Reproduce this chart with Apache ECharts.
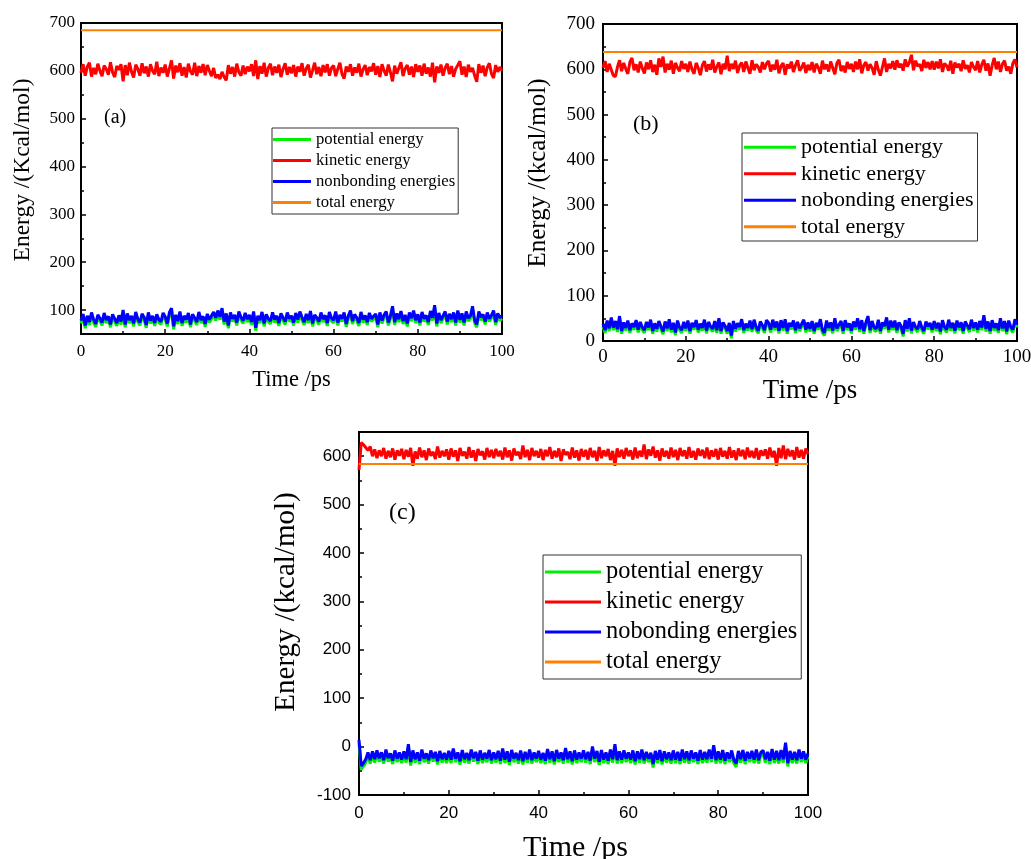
<!DOCTYPE html>
<html>
<head>
<meta charset="utf-8">
<script src="https://cdn.jsdelivr.net/npm/echarts@6/dist/echarts.min.js"></script>
<style>html,body{margin:0;padding:0;background:#fff}#chart{width:1031px;height:859px}</style>
</head>
<body>
<div id="chart"></div>
<script>
// ---------------- DATA (time step 0.5 ps, 0..100 ps) ----------------
const xTickLabels = [0, 20, 40, 60, 80, 100];
const yTicksA = [100, 200, 300, 400, 500, 600, 700];
const yTicksB = [0, 100, 200, 300, 400, 500, 600, 700];
const yTicksC = [-100, 0, 100, 200, 300, 400, 500, 600];
const seriesNamesA = ['potential energy', 'kinetic energy', 'nonbonding energies', 'total energy'];
const seriesNamesBC = ['potential energy', 'kinetic energy', 'nobonding energies', 'total energy'];

const totalA = 685;
const totalB = 638;
const totalC = 584;

const kineticA = [
596,614,590,609,617,588,606,593,615,600,589,611,604,592,618,597,587,610,602,614,
578,612,591,617,598,586,613,604,590,616,595,609,588,614,600,593,619,589,607,596,
613,588,605,622,584,611,597,616,590,608,586,615,599,592,617,589,610,596,614,591,
612,600,589,606,585,592,583,598,587,580,612,594,608,588,615,597,590,611,593,609,
599,614,589,622,583,610,594,617,588,606,615,591,609,596,613,587,604,616,592,608,
595,612,588,609,598,616,590,605,613,586,601,617,593,608,589,612,597,614,590,606,
611,589,604,617,593,584,609,598,614,590,607,596,615,588,603,612,591,608,599,616,
592,610,587,614,600,590,613,597,578,611,594,606,618,589,605,612,592,609,587,614,
598,611,590,615,594,607,588,617,576,609,596,613,590,606,615,593,610,588,604,612,
620,592,609,587,613,598,606,590,577,614,596,611,589,607,616,594,585,612,598,608,600];

const nonbondA = [
78,92,68,88,75,95,80,71,90,83,74,94,79,87,70,91,82,73,89,76,
100,70,93,79,88,72,96,81,74,92,85,69,95,78,88,73,91,80,76,94,
86,72,95,104,66,90,77,97,73,88,80,94,70,91,84,75,96,79,87,71,
92,80,88,96,84,99,86,104,76,93,68,95,82,90,74,97,85,78,94,81,
90,75,97,63,88,79,96,72,91,82,77,95,80,88,73,93,84,76,95,82,
88,74,94,80,97,85,75,92,79,98,72,90,84,76,95,81,89,73,96,83,
79,97,74,90,82,95,71,88,99,77,91,84,73,96,80,89,75,94,82,87,
92,70,95,78,90,97,74,88,108,75,93,81,98,77,90,72,95,83,99,79,
91,74,96,82,89,75,98,84,110,72,94,79,88,97,76,92,81,95,74,99,
80,93,74,97,83,88,108,79,70,97,85,91,76,95,82,89,99,75,93,84,88];

const potentialA = [
72,86,62,82,69,89,74,65,84,77,68,88,73,81,64,85,76,67,83,70,
94,64,87,73,82,66,90,75,68,86,79,63,89,72,82,67,85,74,70,88,
80,66,89,98,60,84,71,91,67,82,74,88,64,85,78,69,90,73,81,65,
86,74,82,90,78,93,80,98,70,87,62,89,76,84,68,91,79,72,88,75,
84,69,91,57,82,73,90,66,85,76,71,89,74,82,67,87,78,70,89,76,
82,68,88,74,91,79,69,86,73,92,66,84,78,70,89,75,83,67,90,77,
73,91,68,84,76,89,65,82,93,71,85,78,67,90,74,83,69,88,76,81,
86,64,89,72,84,91,68,82,102,69,87,75,92,71,84,66,89,77,93,73,
85,68,90,76,83,69,92,78,104,66,88,73,82,91,70,86,75,89,68,93,
74,87,68,91,77,82,102,73,64,91,79,85,70,89,76,83,93,69,87,78,82];

const kineticB = [
603,618,594,612,599,586,584,605,620,596,614,601,590,616,625,598,611,593,617,602,
591,615,600,620,594,610,588,624,605,628,593,612,599,619,590,614,603,596,618,601,
612,594,617,600,590,614,603,587,609,618,595,611,599,621,593,606,615,589,612,600,
630,596,612,601,619,592,608,615,594,617,603,590,620,598,611,605,593,616,600,613,
618,595,610,599,621,591,607,614,588,611,602,617,594,609,620,597,604,615,592,610,
598,616,593,612,604,590,619,600,611,595,617,603,589,614,621,596,608,593,616,601,
612,594,617,600,622,591,609,616,597,611,603,588,618,599,586,605,624,594,612,602,
618,599,620,604,612,597,622,606,615,632,598,619,607,611,596,621,603,616,600,618,
599,617,602,622,594,613,608,597,619,590,615,604,612,596,620,601,609,593,616,605,
598,618,593,611,621,597,613,586,609,625,600,617,594,612,619,597,606,590,613,622,604];

const nonbondB = [
38,24,45,28,52,30,44,26,55,22,41,29,45,24,39,31,46,25,42,30,
24,42,30,47,22,39,27,44,32,21,43,28,48,25,40,19,45,30,24,42,
28,45,22,40,31,46,25,38,29,47,23,42,32,27,44,24,50,22,41,33,
22,40,12,44,27,39,31,48,24,38,29,45,26,47,30,23,43,35,24,46,
40,25,47,30,43,23,46,29,48,22,40,32,45,24,42,28,38,47,25,41,
27,44,22,40,31,48,24,18,45,29,41,23,50,28,36,44,22,46,30,39,
23,43,31,50,26,46,22,41,55,24,44,30,27,47,22,41,33,52,25,45,
30,45,24,41,33,16,46,27,50,23,42,31,26,44,30,22,43,32,40,25,
44,28,40,21,46,31,25,47,29,40,23,45,30,41,22,43,34,26,47,29,
41,25,44,30,57,27,43,22,46,29,39,24,50,28,44,21,45,31,25,48,36];

const potentialB = [
32,18,39,22,46,24,38,20,49,16,35,23,39,18,33,25,40,19,36,24,
18,36,24,41,16,33,21,38,26,15,37,22,42,19,34,13,39,24,18,36,
22,39,16,34,25,40,19,32,23,41,17,36,26,21,38,18,44,16,35,27,
16,34,6,38,21,33,25,42,18,32,23,39,20,41,24,17,37,29,18,40,
34,19,41,24,37,17,40,23,42,16,34,26,39,18,36,22,32,41,19,35,
21,38,16,34,25,42,18,12,39,23,35,17,44,22,30,38,16,40,24,33,
17,37,25,44,20,40,16,35,49,18,38,24,21,41,16,35,27,46,19,39,
24,39,18,35,27,10,40,21,44,17,36,25,20,38,24,16,37,26,34,19,
38,22,34,15,40,25,19,41,23,34,17,39,24,35,16,37,28,20,41,23,
35,19,38,24,51,21,37,16,40,23,33,18,44,22,38,15,39,25,19,42,30];

const kineticC = [
572,628,624,618,612,620,600,614,596,612,600,617,595,611,598,616,593,612,601,615,
594,613,599,617,580,610,595,618,598,612,592,616,601,609,594,620,597,611,600,614,
593,616,599,612,590,617,601,609,595,619,597,612,590,615,602,610,593,617,598,613,
596,615,600,611,593,618,598,612,591,616,602,609,594,622,598,613,592,617,600,611,
597,615,592,613,600,619,595,611,598,616,590,614,603,609,594,618,597,612,591,615,
599,613,593,617,598,611,590,619,596,612,600,615,592,611,580,616,598,613,595,617,
600,612,593,618,596,611,599,624,594,614,601,620,597,612,591,616,599,611,595,618,
598,613,592,617,600,612,595,619,597,611,593,616,601,613,596,618,594,612,599,615,
593,617,599,611,595,619,597,612,592,616,600,613,594,618,598,611,596,617,593,612,
601,614,595,618,598,611,580,617,596,622,594,615,600,612,593,619,597,613,595,616,604];

const nonbondC = [
14,-40,-34,-26,-12,-28,-10,-26,-8,-24,-12,-28,-6,-24,-14,-29,-8,-25,-12,-27,
-10,-26,5,-32,-8,-26,-12,-29,-6,-25,-14,-28,-8,-24,-11,-30,-9,-26,-13,-27,
-9,-27,-4,-25,-12,-30,-7,-26,-13,-28,-6,-24,-11,-29,-8,-27,-13,-25,-7,-28,
-12,-26,-9,-29,-4,-27,-10,-31,-7,-25,-13,-28,-8,-30,-11,-26,-6,-28,-12,-25,
-9,-27,-13,-29,-5,-26,-10,-30,-7,-25,-12,-28,-3,-26,-10,-30,-8,-27,-12,-25,
-8,-26,-11,-29,0,-25,-9,-31,-7,-27,-12,-29,-6,-26,5,-28,-10,-27,-8,-25,
-12,-27,-8,-30,-10,-26,-6,-28,-11,-25,-13,-36,-9,-27,-7,-30,-10,-26,-12,-28,
-8,-27,-11,-29,-6,-26,-10,-28,-8,-25,-12,-29,-7,-27,-11,-26,-6,-25,3,-28,
-10,-27,-7,-29,-12,-25,-8,-28,-35,-9,-26,-7,-29,-11,-25,-9,-27,-6,-28,-12,
-8,-26,-11,-29,-5,-27,-9,-28,-7,-26,8,-34,-9,-27,-11,-28,-6,-25,-10,-27,-14];

const potentialC = [
7,-47,-41,-33,-19,-35,-17,-33,-15,-31,-19,-35,-13,-31,-21,-36,-15,-32,-19,-34,
-17,-33,-2,-39,-15,-33,-19,-36,-13,-32,-21,-35,-15,-31,-18,-37,-16,-33,-20,-34,
-16,-34,-11,-32,-19,-37,-14,-33,-20,-35,-13,-31,-18,-36,-15,-34,-20,-32,-14,-35,
-19,-33,-16,-36,-11,-34,-17,-38,-14,-32,-20,-35,-15,-37,-18,-33,-13,-35,-19,-32,
-16,-34,-20,-36,-12,-33,-17,-37,-14,-32,-19,-35,-10,-33,-17,-37,-15,-34,-19,-32,
-15,-33,-18,-36,-7,-32,-16,-38,-14,-34,-19,-36,-13,-33,-2,-35,-17,-34,-15,-32,
-19,-34,-15,-37,-17,-33,-13,-35,-18,-32,-20,-43,-16,-34,-14,-37,-17,-33,-19,-35,
-15,-34,-18,-36,-13,-33,-17,-35,-15,-32,-19,-36,-14,-34,-18,-33,-13,-32,-4,-35,
-17,-34,-14,-36,-19,-32,-15,-35,-42,-16,-33,-14,-36,-18,-32,-16,-34,-13,-35,-19,
-15,-33,-18,-36,-12,-34,-16,-35,-14,-33,1,-41,-16,-34,-18,-35,-13,-32,-17,-34,-21];

// ---------------- helpers ----------------
const TIME_STEP = 0.5;
function pairs(vals) { return vals.map((v, i) => [i * TIME_STEP, v]); }
function flat(v) { return [[xTickLabels[0], v], [xTickLabels[xTickLabels.length - 1], v]]; }
function minors(majors) { const m = []; for (let i = 0; i < majors.length - 1; i++) m.push((majors[i] + majors[i + 1]) / 2); return m; }

const SERIF = '"Liberation Serif","Times New Roman",serif';
const SANS = '"Liberation Sans",Arial,sans-serif';
const COLORS = { potential: '#00ee00', kinetic: '#ff0000', nonbond: '#0000ff', total: '#ff8000' };

function xAxis(gi, fam, size, nameSize, nameGap, margin, namePad) {
  return {
    type: 'value', gridIndex: gi, min: 0, max: 100, interval: 20,
    name: 'Time /ps', nameLocation: 'middle', nameGap: nameGap,
    nameTextStyle: { fontFamily: SERIF, fontSize: nameSize, color: '#000', padding: namePad || 0 },
    axisLine: { onZero: false, lineStyle: { color: '#000', width: 2 } },
    axisTick: { inside: true, length: 5, lineStyle: { color: '#000', width: 1.5 } },
    minorTick: { show: true, splitNumber: 2, length: 3, lineStyle: { color: '#000', width: 1.5 } },
    axisLabel: { fontFamily: fam, fontSize: size, color: '#000', margin: margin },
    splitLine: { show: false }
  };
}
function yAxisMain(gi, min, max, interval, ticks, fam, size, margin) {
  return {
    type: 'value', gridIndex: gi, position: 'left', min: min, max: max, interval: interval,
    axisLine: { onZero: false, lineStyle: { color: '#000', width: 2 } },
    axisTick: { inside: true, length: 5, customValues: ticks, lineStyle: { color: '#000', width: 1.5 } },
    axisLabel: { fontFamily: fam, fontSize: size, color: '#000', margin: margin, customValues: ticks },
    splitLine: { show: false }
  };
}
function yAxisMinor(gi, min, max, interval, ticks) {
  return {
    type: 'value', gridIndex: gi, position: 'left', min: min, max: max, interval: interval,
    axisLine: { show: false, onZero: false },
    axisTick: { inside: true, length: 3, customValues: minors(ticks), lineStyle: { color: '#000', width: 1.5 } },
    axisLabel: { show: false },
    splitLine: { show: false }
  };
}
function panelSeries(names, xi, yi, pot, kin, nb, tot) {
  const mk = (name, color, data, w) => ({
    name: name, type: 'line', xAxisIndex: xi, yAxisIndex: yi, data: data,
    showSymbol: false, symbol: 'none', color: color, lineStyle: { color: color, width: w },
    silent: true, animation: false
  });
  return [
    mk(names[0], COLORS.potential, pairs(pot), 3),
    mk(names[1], COLORS.kinetic, pairs(kin), 3),
    mk(names[2], COLORS.nonbond, pairs(nb), 3),
    mk(names[3], COLORS.total, flat(tot), 2)
  ];
}
function legend(names, left, top, itemWidth, fontSize, lineHeight, padding) {
  return {
    data: names, orient: 'vertical', left: left, top: top,
    icon: 'rect', itemWidth: itemWidth, itemHeight: 3, itemGap: 0,
    borderColor: '#333', borderWidth: 1, padding: padding, backgroundColor: '#fff',
    textStyle: { fontFamily: SERIF, fontSize: fontSize, color: '#000', lineHeight: lineHeight },
    selectedMode: false
  };
}
function yTitle(text, x, y, size) {
  return { type: 'text', x: x, y: y, rotation: Math.PI / 2,
    style: { text: text, font: size + 'px ' + SERIF, fill: '#000', align: 'center', verticalAlign: 'middle' } };
}
function grid(left, top, width, height) {
  return { left: left, top: top, width: width, height: height, show: true, borderColor: '#000', borderWidth: 2,
    backgroundColor: 'transparent', containLabel: false, outerBoundsMode: 'none' };
}

const chart = echarts.init(document.getElementById('chart'));
const option = {
  backgroundColor: '#fff',
  animation: false,
  grid: [
    grid(81, 23, 421, 311),
    grid(603, 24, 414, 317),
    grid(359, 432, 449, 363)
  ],
  xAxis: [
    xAxis(0, SERIF, 17, 22.5, 35, 9),
    xAxis(1, SERIF, 19, 27, 36, 7),
    xAxis(2, SANS, 17, 30, 38, 10, [0, 16, 0, 0])
  ],
  yAxis: [
    yAxisMain(0, 50, 700, 50, yTicksA, SERIF, 17, 6),
    yAxisMinor(0, 50, 700, 50, [50].concat(yTicksA)),
    yAxisMain(1, 0, 700, 100, yTicksB, SERIF, 19, 8),
    yAxisMinor(1, 0, 700, 100, yTicksB),
    yAxisMain(2, -100, 650, 50, yTicksC, SANS, 17, 8),
    yAxisMinor(2, -100, 650, 50, yTicksC.concat([700]))
  ],
  legend: [
    legend(seriesNamesA, 272, 128, 38, 16.7, 21, [1, 3, 1, 1]),
    legend(seriesNamesBC, 742, 133, 52, 22, 26.5, [1, 4, 1, 2]),
    legend(seriesNamesBC, 543, 555, 56, 24.4, 30, [2, 4, 2, 2])
  ],
  graphic: [
    yTitle('Energy /(Kcal/mol)', 23, 170, 23.5),
    yTitle('Energy /(kcal/mol)', 538.5, 173, 25),
    yTitle('Energy /(kcal/mol)', 286, 602, 29),
    { type: 'text', left: 104, top: 108, style: { text: '(a)', font: '20px ' + SERIF, fill: '#000' } },
    { type: 'text', left: 633, top: 113, style: { text: '(b)', font: '22px ' + SERIF, fill: '#000' } },
    { type: 'text', left: 389, top: 501, style: { text: '(c)', font: '24px ' + SERIF, fill: '#000' } }
  ],
  series: [].concat(
    panelSeries(seriesNamesA, 0, 0, potentialA, kineticA, nonbondA, totalA),
    panelSeries(seriesNamesBC, 1, 2, potentialB, kineticB, nonbondB, totalB),
    panelSeries(seriesNamesBC, 2, 4, potentialC, kineticC, nonbondC, totalC)
  )
};
chart.setOption(option);
</script>
</body>
</html>
